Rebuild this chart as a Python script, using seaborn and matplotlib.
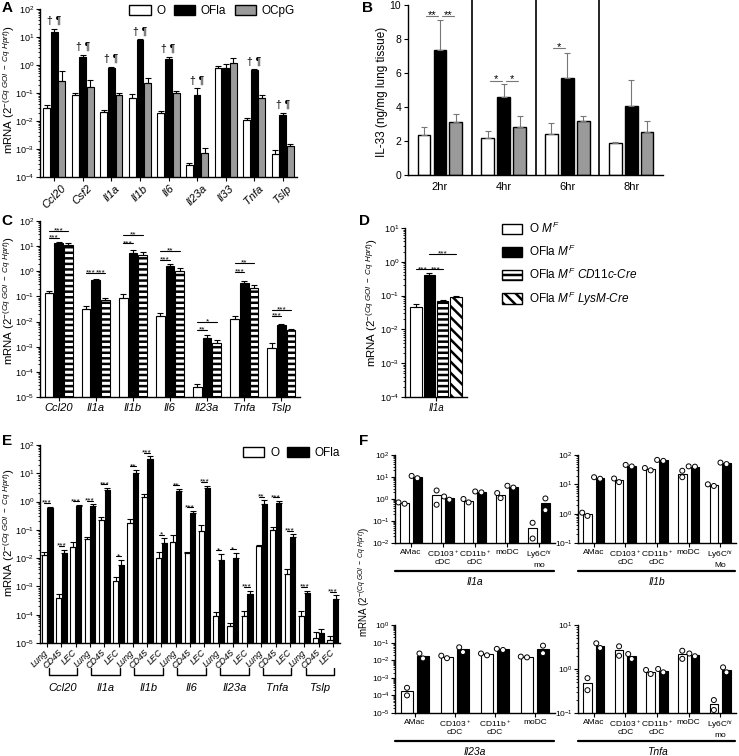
import numpy as np
import pandas as pd
import matplotlib
matplotlib.use("Agg")
import matplotlib.pyplot as plt
import matplotlib.transforms as mtransforms
from matplotlib.lines import Line2D
from matplotlib.patches import Patch
from matplotlib.ticker import FixedLocator, LogLocator, NullFormatter
import seaborn as sns

# ---------------- panel A : whole lung, 3 treatments ----------------
genes_a = ["Ccl20", "Csf2", "Il1a", "Il1b", "Il6", "Il23a", "Il33", "Tnfa", "Tslp"]
a_o = [0.030, 0.085, 0.021, 0.068, 0.019, 0.00026, 0.80, 0.011, 0.00065]
a_o_top = [0.036, 0.10, 0.025, 0.09, 0.023, 0.00032, 0.90, 0.013, 0.0009]
a_ofla = [15, 2.0, 0.75, 7.5, 1.7, 0.085, 0.80, 0.65, 0.016]
a_ofla_top = [20, 2.3, 0.85, 8.2, 2.0, 0.15, 1.05, 0.70, 0.020]
a_ocpg = [0.27, 0.16, 0.085, 0.23, 0.10, 0.0007, 1.2, 0.065, 0.0013]
a_ocpg_top = [0.60, 0.28, 0.10, 0.33, 0.115, 0.0011, 1.8, 0.085, 0.0015]
a_marks = ["† ¶", "† ¶", "† ¶", "† ¶", "† ¶", "† ¶", "", "† ¶", "† ¶"]

# ---------------- panel B : IL-33 protein ----------------
times_b = ["2hr", "4hr", "6hr", "8hr"]
b_o = [2.35, 2.2, 2.4, 1.9]
b_o_top = [2.8, 2.6, 3.05, 1.95]
b_ofla = [7.35, 4.6, 5.7, 4.05]
b_ofla_top = [9.1, 5.35, 7.15, 5.6]
b_ocpg = [3.1, 2.8, 3.2, 2.55]
b_ocpg_top = [3.6, 3.45, 3.45, 3.15]
# (group, bar from, bar to, height, stars)
b_sig = [(0, 0, 1, 9.35, "**"), (0, 1, 2, 9.35, "**"), (1, 0, 1, 5.55, "*"),
         (1, 1, 2, 5.55, "*"), (2, 0, 1, 7.45, "*")]

# ---------------- panel C : MyD88 floxed ----------------
genes_c = ["Ccl20", "Il1a", "Il1b", "Il6", "Il23a", "Tnfa", "Tslp"]
c_o = [0.14, 0.033, 0.09, 0.016, 2.6e-5, 0.013, 0.0009]
c_o_top = [0.16, 0.042, 0.12, 0.021, 3.2e-5, 0.016, 0.0014]
c_ofla = [13, 0.45, 5.5, 1.6, 0.0022, 0.33, 0.0075]
c_ofla_top = [14, 0.48, 6.8, 1.9, 0.003, 0.42, 0.008]
c_cd11c = [11, 0.07, 4.5, 1.0, 0.0014, 0.22, 0.0048]
c_cd11c_top = [13, 0.09, 5.8, 1.3, 0.0019, 0.28, 0.0052]
c_sig = [(0, 0, 1, 21, "***"), (0, 0, 2, 41, "***"), (1, 0, 1, 0.85, "***"),
         (1, 1, 2, 0.85, "***"), (2, 0, 1, 13, "***"), (2, 0, 2, 28, "**"),
         (3, 0, 1, 2.8, "***"), (3, 0, 2, 6.6, "**"), (4, 0, 1, 0.0046, "**"),
         (4, 0, 2, 0.0098, "*"), (5, 0, 1, 0.95, "***"), (5, 0, 2, 2.2, "**"),
         (6, 0, 1, 0.0166, "***"), (6, 0, 2, 0.03, "***")]

# ---------------- panel D ----------------
groups_d = [r"O $M^F$", r"OFla $M^F$", r"OFla $M^F$ $\mathit{CD11c}$-$\mathit{Cre}$",
            r"OFla $M^F$ $\mathit{LysM}$-$\mathit{Cre}$"]
d_vals = [0.047, 0.40, 0.070, 0.088]
d_top = [0.058, 0.47, 0.075, 0.097]
d_sig = [(0, 1, 0.6, "***"), (1, 2, 0.6, "***"), (1, 3, 1.7, "***")]

# ---------------- panel E : sorted cells ----------------
genes_e = ["Ccl20", "Il1a", "Il1b", "Il6", "Il23a", "Tnfa", "Tslp"]
tissues_e = ["Lung", "CD45", "LEC"]
e_o = [0.013, 0.0004, 0.024, 0.048, 0.22, 0.0015, 0.18, 1.4, 0.010,
       0.038, 0.015, 0.09, 9e-5, 4e-5, 9e-5, 0.027, 0.10, 0.0028, 9e-5, 1.5e-5, 1.3e-5]
e_o_top = [0.016, 0.00055, 0.037, 0.058, 0.28, 0.0022, 0.25, 1.8, 0.016,
           0.065, 0.016, 0.15, 1.2e-4, 5e-5, 1.4e-4, 0.028, 0.125, 0.0042, 1.4e-4, 2.5e-5, 1.8e-5]
e_ofla = [0.6, 0.015, 0.7, 0.7, 2.6, 0.0057, 10, 32, 0.035,
          2.3, 0.4, 2.9, 0.0085, 0.01, 0.00055, 0.85, 0.9, 0.057, 0.0006, 2.2e-5, 0.00037]
e_ofla_top = [0.65, 0.02, 0.75, 0.8, 3.0, 0.0085, 13, 40, 0.05,
              2.8, 0.46, 3.6, 0.014, 0.015, 0.0007, 1.1, 1.05, 0.07, 0.0007, 3.2e-5, 0.00048]
e_sig = ["***", "***", "***", "***", "***", "*", "**", "***", "*", "**", "***", "***",
         "*", "*", "***", "**", "***", "***", "***", "", "***"]

# ---------------- panel F : single cell types, two points each ----------------
cells_f = ["AMac", "CD103", "CD11b", "moDC", "Ly6C"]
cell_labels_f = ["AMac", "CD103$^+$\ncDC", "CD11b$^+$\ncDC", "moDC", "Ly6C$^{hi}$\nmo"]
cell_labels_f_il1b = ["AMac", "CD103$^+$\ncDC", "CD11b$^+$\ncDC", "moDC", "Ly6C$^{hi}$\nMo"]
il1a_o = [[0.61, 0.70], [2.44, 0.55], [0.70, 1.0], [1.1, 1.86], [0.083, 0.016]]
il1a_ofla = [[8.8, 11.2], [0.93, 1.3], [2.0, 2.2], [3.3, 4.0], [1.06, 0.31]]
il1b_o = [[0.84, 1.08], [11.9, 15.8], [30, 36], [29, 17.5], [8.8, 10]]
il1b_ofla = [[15.5, 17.5], [40.7, 46], [63, 68], [40, 41], [49, 55]]
il23a_o = [[2.7e-4, 1.0e-4], [0.013, 0.018], [0.019, 0.024], [0.0145, 0.016]]
il23a_ofla = [[0.024, 0.0126], [0.054, 0.029], [0.038, 0.044], [0.067, 0.025]]
tnfa_o = [[0.62, 0.33], [3.28, 2.0], [0.77, 0.95], [2.6, 1.7], [0.197, 0.117]]
tnfa_ofla = [[3.84, 3.0], [2.19, 1.69], [0.84, 1.0], [1.95, 2.25], [1.09, 0.84]]

W, H = 739, 756

sns.set_theme(style="ticks")
plt.rcParams["font.family"] = ["Liberation Sans", "DejaVu Sans"]
plt.rcParams["mathtext.fontset"] = "custom"
plt.rcParams["mathtext.rm"] = "Liberation Sans"
plt.rcParams["mathtext.it"] = "Liberation Sans:italic"
plt.rcParams["mathtext.bf"] = "Liberation Sans:bold"
plt.rcParams["hatch.linewidth"] = 1.8
plt.rcParams["text.color"] = "black"

fig = plt.figure(figsize=(W / 100, H / 100), dpi=100)

YLAB = r"mRNA (2$^{-(Cq\ GOI\ -\ Cq\ Hprt)}$)"
GRAY = "#9a9a9a"


def box(l, t, r, b):
    return [l / W, 1 - b / H, (r - l) / W, (b - t) / H]


def fxy(x, y):
    return x / W, 1 - y / H


def draw_bars(ax, cats, groups, series, colors, width, gap, hatches=None, lw=0.8):
    rows = []
    for g, vals in zip(groups, series):
        for c, v in zip(cats, vals):
            rows.append((c, g, v))
    df = pd.DataFrame(rows, columns=["cat", "grp", "val"])
    sns.barplot(data=df, x="cat", y="val", hue="grp", order=cats, hue_order=groups,
                palette=colors, saturation=1, width=width, gap=gap, errorbar=None,
                edgecolor="black", linewidth=lw, legend=False, ax=ax)
    conts = ax.containers[-len(groups):]
    if hatches:
        for cont, h in zip(conts, hatches):
            if h:
                for bar in cont:
                    bar.set_hatch(h)
    return conts


def centers(cont):
    return [b.get_x() + b.get_width() / 2 for b in cont]


def up_err(ax, cont, vals, tops, color="black"):
    vals = np.asarray(vals, float)
    tops = np.asarray(tops, float)
    ax.errorbar(centers(cont), vals, yerr=[np.zeros_like(vals), tops - vals], fmt="none",
                ecolor=color, elinewidth=0.8, capsize=2, capthick=0.8, zorder=3)


def sig(ax, x1, x2, y, text, color="black", fs=6.5):
    ax.plot([x1, x2], [y, y], color=color, lw=0.8, clip_on=False, zorder=4)
    ax.annotate(text, ((x1 + x2) / 2, y), xytext=(0, -1.2), textcoords="offset points",
                ha="center", va="baseline", fontsize=fs, annotation_clip=False)


def log_y(ax, lo, hi):
    ax.set_yscale("log")
    ax.set_ylim(10.0 ** lo, 10.0 ** hi)
    ax.yaxis.set_major_locator(FixedLocator(10.0 ** np.arange(lo, hi + 1)))
    ax.yaxis.set_minor_locator(LogLocator(base=10, subs=np.arange(2, 10), numticks=100))
    ax.yaxis.set_minor_formatter(NullFormatter())


def style(ax, xfs=8, yfs=6.5):
    sns.despine(ax=ax)
    ax.tick_params(axis="both", which="major", direction="out", length=3, width=0.8,
                   color="black", labelcolor="black", pad=1.5)
    ax.tick_params(axis="y", which="minor", direction="out", length=1.8, width=0.6, color="black")
    ax.tick_params(axis="y", labelsize=yfs, pad=1)
    ax.tick_params(axis="x", labelsize=xfs)
    for s in ax.spines.values():
        s.set_linewidth(1.0)
        s.set_color("black")
    ax.set_xlabel("")
    ax.set_ylabel("")


def letter(x, y, s):
    fig.text(*fxy(x, y), s, fontsize=11, fontweight="bold", ha="left", va="top")


def ylab(x, y, s, fs=8.5):
    fig.text(*fxy(x, y), s, rotation=90, ha="center", va="center", fontsize=fs)


def legend_boxes(handles, x, y, ncol, loc):
    fig.legend(handles=handles, loc=loc, bbox_to_anchor=fxy(x, y), ncol=ncol, frameon=False,
               fontsize=8.5, handlelength=1.8, handleheight=0.9, handletextpad=0.5,
               columnspacing=0.7, labelspacing=0.7, borderpad=0, borderaxespad=0)


# ======== A ========
axA = fig.add_axes(box(40, 9, 297, 177))
contsA = draw_bars(axA, genes_a, ["O", "OFla", "OCpG"], [a_o, a_ofla, a_ocpg],
                   ["white", "black", GRAY], 0.8, 0.1)
log_y(axA, -4, 2)
for cont, v, t in zip(contsA, [a_o, a_ofla, a_ocpg], [a_o_top, a_ofla_top, a_ocpg_top]):
    up_err(axA, cont, v, t)
for x, t, m in zip(centers(contsA[1]), a_ofla_top, a_marks):
    if m:
        axA.annotate(m, (x, t), xytext=(0, 2), textcoords="offset points", ha="center",
                     va="bottom", fontsize=7.5)
axA.set_xlim(-0.5, len(genes_a) - 0.5)
style(axA)
axA.set_xticks(range(len(genes_a)), genes_a, rotation=45, ha="center", style="italic", fontsize=8)
legend_boxes([Patch(facecolor=c, edgecolor="black", label=l) for c, l in
              zip(["white", "black", GRAY], ["O", "OFla", "OCpG"])], 295, 5, 3, "upper right")
ylab(9, 90, YLAB, 8.2)
letter(2, 1, "A")

# ======== B ========
axB = fig.add_axes(box(408, 5, 663, 175))
contsB = draw_bars(axB, times_b, ["O", "OFla", "OCpG"], [b_o, b_ofla, b_ocpg],
                   ["white", "black", GRAY], 0.75, 0.2, lw=1.0)
for cont, v, t in zip(contsB, [b_o, b_ofla, b_ocpg], [b_o_top, b_ofla_top, b_ocpg_top]):
    up_err(axB, cont, v, t, color="#777777")
axB.set_ylim(0, 10)
axB.set_yticks([0, 2, 4, 6, 8, 10])
axB.set_xlim(-0.5, len(times_b) - 0.5)
for x in np.arange(0.5, len(times_b) - 1):
    axB.plot([x, x], [0, 10.3], color="black", lw=1.2, clip_on=False)
for g, i, j, y, s in b_sig:
    xs = [centers(contsB[i])[g], centers(contsB[j])[g]]
    pad = 0.03
    sig(axB, xs[0] + pad, xs[1] - pad, y, s, color="#777777", fs=8)
style(axB, xfs=8, yfs=7.5)
axB.tick_params(axis="x", length=0, pad=5)
axB.tick_params(axis="y", pad=2)
ylab(382, 92, "IL-33 (ng/mg lung tissue)", 8.5)
letter(362, 1, "B")

# ======== C ========
axC = fig.add_axes(box(40, 221, 300, 397))
contsC = draw_bars(axC, genes_c, ["O", "OFla", "CD11c"], [c_o, c_ofla, c_cd11c],
                   ["white", "black", "white"], 0.78, 0.1, hatches=[None, None, "---"])
log_y(axC, -5, 2)
for cont, v, t in zip(contsC, [c_o, c_ofla, c_cd11c], [c_o_top, c_ofla_top, c_cd11c_top]):
    up_err(axC, cont, v, t)
for g, i, j, y, s in c_sig:
    sig(axC, centers(contsC[i])[g], centers(contsC[j])[g], y, s, fs=6)
axC.set_xlim(-0.5, len(genes_c) - 0.5)
style(axC)
axC.set_xticks(range(len(genes_c)), genes_c, style="italic", fontsize=8)
ylab(9, 301, YLAB, 8.2)
letter(1, 214, "C")

# ======== D ========
axD = fig.add_axes(box(405, 228, 467, 397))
contsD = draw_bars(axD, ["Il1a"], groups_d, [[v] for v in d_vals],
                   ["white", "black", "white", "white"], 0.85, 0.12,
                   hatches=[None, None, "---", "\\\\\\"])
log_y(axD, -4, 1)
for cont, v, t in zip(contsD, d_vals, d_top):
    up_err(axD, cont, [v], [t])
for i, j, y, s in d_sig:
    sig(axD, centers(contsD[i])[0], centers(contsD[j])[0], y, s, fs=6)
axD.set_xlim(-0.5, 0.5)
style(axD)
axD.set_xticks([0], ["Il1a"], style="italic", fontsize=7)
fig.legend(handles=[Patch(facecolor=c, edgecolor="black", hatch=h, label=l) for c, h, l in
                    zip(["white", "black", "white", "white"], [None, None, "---", "\\\\\\"], groups_d)],
           loc="upper left", bbox_to_anchor=fxy(502, 221), frameon=False, fontsize=8.5,
           handlelength=1.7, handleheight=1.0, handletextpad=0.6, labelspacing=0.65,
           borderpad=0, borderaxespad=0)
ylab(372, 303, YLAB, 8.2)
letter(359, 214, "D")

# ======== E ========
cats_e = [f"{g} {t}" for g in genes_e for t in tissues_e]
axE = fig.add_axes(box(40, 445, 340, 643))
contsE = draw_bars(axE, cats_e, ["O", "OFla"], [e_o, e_ofla], ["white", "black"], 0.8, 0.1)
log_y(axE, -5, 2)
up_err(axE, contsE[0], e_o, e_o_top)
up_err(axE, contsE[1], e_ofla, e_ofla_top)
xo, xf = centers(contsE[0]), centers(contsE[1])
for k, s in enumerate(e_sig):
    if s:
        y = max(e_o_top[k], e_ofla_top[k]) * 1.35
        sig(axE, xo[k], xf[k], y, s, fs=6)
axE.set_xlim(-0.5, len(cats_e) - 0.5)
style(axE)
axE.set_xticks(range(len(cats_e)), tissues_e * len(genes_e), rotation=45, ha="right",
               va="center", rotation_mode="anchor", style="italic", fontsize=6.5)
axE.tick_params(axis="x", pad=3)
trE = mtransforms.blended_transform_factory(axE.transData, axE.transAxes)
yb, yt = (643 - 675) / 198, (643 - 668) / 198
for i, g in enumerate(genes_e):
    x0, x1 = 3 * i + 0.1, 3 * i + 2.1
    axE.plot([x0, x0, x1, x1], [yt, yb, yb, yt], color="black", lw=1.0,
             transform=trE, clip_on=False)
    axE.text((x0 + x1) / 2, (643 - 688) / 198, g, transform=trE, ha="center", va="center",
             style="italic", fontsize=8)
legend_boxes([Patch(facecolor=c, edgecolor="black", label=l) for c, l in
              zip(["white", "black"], ["O", "OFla"])], 340, 447, 2, "upper right")
ylab(9, 533, YLAB, 8.2)
letter(2, 434, "E")


# ======== F ========
def f_panel(rect, cells, labels, o_pts, ofla_pts, lo, hi, gap, gene):
    ax = fig.add_axes(box(*rect))
    rows = []
    for grp, pts in (("O", o_pts), ("OFla", ofla_pts)):
        for c, pair in zip(cells, pts):
            for v in pair:
                rows.append((c, grp, v))
    df = pd.DataFrame(rows, columns=["cell", "grp", "val"])
    sns.barplot(data=df, x="cell", y="val", hue="grp", order=cells, hue_order=["O", "OFla"],
                palette=["white", "black"], saturation=1, width=0.8, gap=gap, errorbar=None,
                edgecolor="black", linewidth=0.8, legend=False, ax=ax)
    log_y(ax, lo, hi)
    sns.swarmplot(data=df, x="cell", y="val", hue="grp", order=cells, hue_order=["O", "OFla"],
                  dodge=True, palette=["white", "white"], size=3.6, edgecolor="black",
                  linewidth=0.7, legend=False, ax=ax, zorder=5)
    ax.set_xlim(-0.5, len(cells) - 0.5)
    style(ax, xfs=6, yfs=6)
    ax.set_xticks(range(len(cells)), labels[:len(cells)], fontsize=6, linespacing=0.95)
    ax.tick_params(axis="x", pad=1)
    l, t, r, b = rect
    line_y = b + 28
    fig.add_artist(Line2D([l / W, (r - 1) / W], [1 - line_y / H] * 2, color="black", lw=1.6))
    fig.text(*fxy((l + r) / 2, line_y + 11), gene, ha="center", va="center", style="italic",
             fontsize=7.5)
    return ax


f_panel((395, 455, 555, 543), cells_f, cell_labels_f, il1a_o, il1a_ofla, -2, 2, 0.33, "Il1a")
f_panel((578, 455, 736, 543), cells_f, cell_labels_f_il1b, il1b_o, il1b_ofla, -1, 2, 0.33, "Il1b")
f_panel((395, 625, 555, 713), cells_f[:4], cell_labels_f, il23a_o, il23a_ofla, -5, 0, 0.25, "Il23a")
f_panel((578, 625, 736, 713), cells_f, cell_labels_f, tnfa_o, tnfa_ofla, -1, 1, 0.33, "Tnfa")
ylab(364, 582, YLAB, 7.0)
letter(359, 434, "F")

fig.savefig("out.png", dpi=100)
